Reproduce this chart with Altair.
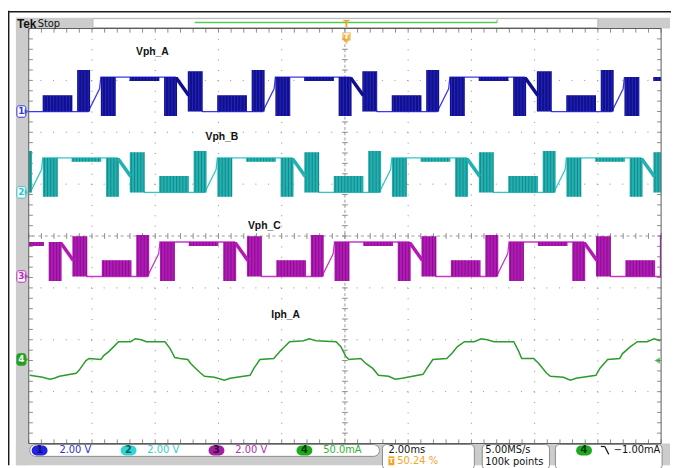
import altair as alt
import numpy as np
import pandas as pd

# ---------------- data ----------------
T_DOMAIN = [-10.0, 10.0]      # ms, 2.00 ms/div, 10 div
DIV_DOMAIN = [-4.0, 4.0]      # vertical divisions
V_PER_DIV = 2.0
MA_PER_DIV = 50.0

PHASES = ["Vph_A", "Vph_B", "Vph_C"]
PHASE_OFFSET_DIV = [2.40, 0.84, -0.78]
CUR_OFFSET_DIV = -2.38
PWM_PERIOD_MS = 5.52
PHASE_START_MS = [-9.56, -5.875, -7.69]   # start of the first low chopped block

# chopped blocks of one period (ms from block start, volts)
BLK_T0 = [0.00, 1.09, 1.84, 2.75, 3.84, 4.59]
BLK_T1 = [0.94, 1.50, 2.31, 3.69, 4.25, 5.06]
BLK_LO = [0.00, 0.00, -0.17, 1.18, -0.17, 0.00]
BLK_HI = [0.63, 1.60, 1.33, 1.33, 1.33, 1.55]

# thin trace of one period
TRACE_T = [0.00, 1.44, 1.80, 1.84, 4.20, 4.62, 5.06, 5.52]
TRACE_V = [0.00, 0.00, 0.88, 1.33, 1.33, 0.62, 0.00, 0.00]

# thick diagonal inside the "N"
DIAG_T = [4.22, 4.62]
DIAG_V = [1.30, 0.62]

# phase A current (ms, mA)
CUR_T = [-9.97, -9.56, -9.34, -9.19, -9.03, -8.50, -8.41, -8.19, -8.09, -7.72,
         -7.63, -7.47, -7.31, -7.16, -6.94, -6.78, -6.63, -6.44, -6.28, -5.69,
         -5.53, -5.38, -5.22, -4.97, -4.88, -4.72, -4.56, -4.44, -4.13, -3.81,
         -3.63, -3.00, -2.88, -2.69, -2.25, -2.06, -1.75, -1.31, -1.13, -0.91,
         -0.28, -0.13, 0.03, 0.13, 0.50, 0.66, 0.88, 1.06, 1.38, 1.59,
         1.81, 2.47, 2.59, 2.78, 3.22, 3.38, 3.56, 3.78, 4.09, 4.31,
         4.50, 4.72, 5.34, 5.50, 5.59, 5.97, 6.13, 6.38, 6.50, 6.91,
         7.13, 7.31, 7.94, 8.06, 8.31, 8.69, 8.78, 9.03, 9.25, 9.56,
         9.78, 9.97]
CUR_MA = [-15.2, -17.1, -19.0, -18.1, -16.2, -13.3, -10.5, -1.0, 1.0, 0.0,
          3.8, 7.6, 12.4, 17.1, 17.1, 17.1, 20.0, 19.0, 17.1, 17.1,
          10.5, 1.9, 1.0, 0.0, -3.8, -8.6, -13.3, -16.2, -17.1, -20.0,
          -18.1, -15.2, -8.6, 0.0, 1.0, 7.6, 17.1, 18.1, 20.0, 18.1,
          17.1, 12.4, 2.9, 0.0, 1.0, -3.8, -8.6, -15.2, -16.2, -19.0,
          -18.1, -14.3, -8.6, 0.0, 1.0, 5.7, 12.4, 17.1, 17.1, 20.0,
          19.0, 17.1, 17.1, 7.6, 1.0, 1.0, -3.8, -13.3, -16.2, -17.1,
          -20.0, -18.1, -15.2, -8.6, 0.0, 1.0, 5.7, 12.4, 17.1, 17.1,
          20.0, 18.1]

TRIGGER_MS = 0.05
TRIGGER_LEVEL_MA = -1.0

GRID_T = [-8, -6, -4, -2, 2, 4, 6, 8]
GRID_D = [-3, -2, -1, 1, 2, 3]

LABELS = ["Vph_A", "Vph_B", "Vph_C", "Iph_A"]
LABEL_T = [-6.09, -3.89, -2.55, -1.875]
LABEL_D = [3.54, 1.90, 0.19, -1.52]

# ---------------- styles ----------------
LINE_COL = {"Vph_A": "#3a3af0", "Vph_B": "#30c8c8", "Vph_C": "#c838c8"}
BLK_COL = {"Vph_A": "#10108e", "Vph_B": "#22b0b0", "Vph_C": "#b21ab6"}
STRIPE_COL = {"Vph_A": "#3434d8", "Vph_B": "#0f6f6f", "Vph_C": "#6a0a70"}
CUR_COL = "#2c9c2c"
FONT = "DejaVu Sans"
STRIPE_STEP_MS = 0.1

xs = alt.Scale(domain=T_DOMAIN, nice=False, zero=False)
ys = alt.Scale(domain=DIV_DOMAIN, nice=False, zero=False)

# ---------------- build tables ----------------
blk_rows, line_rows, diag_rows, stripe_rows = [], [], [], []
for ph, off, start in zip(PHASES, PHASE_OFFSET_DIV, PHASE_START_MS):
    for k in range(-2, 5):
        base = start + k * PWM_PERIOD_MS
        for t0, t1, lo, hi in zip(BLK_T0, BLK_T1, BLK_LO, BLK_HI):
            a, b = base + t0, base + t1
            if b <= T_DOMAIN[0] or a >= T_DOMAIN[1]:
                continue
            a, b = max(a, T_DOMAIN[0]), min(b, T_DOMAIN[1])
            y0, y1 = off + lo / V_PER_DIV, off + hi / V_PER_DIV
            blk_rows.append(dict(ph=ph, t0=a, t1=b, y0=y0, y1=y1, c=BLK_COL[ph]))
            for s in np.arange(a + STRIPE_STEP_MS / 2, b, STRIPE_STEP_MS):
                stripe_rows.append(dict(t=s, y0=y0, y1=y1, c=STRIPE_COL[ph]))
        for t, v in zip(TRACE_T, TRACE_V):
            tt = base + t
            if -11 < tt < 11:
                line_rows.append(dict(ph=ph, t=tt, y=off + v / V_PER_DIV, c=LINE_COL[ph]))
        if -11 < base + DIAG_T[0] < 11:
            diag_rows.append(dict(ph=ph, k=k, ta=base + DIAG_T[0], tb=base + DIAG_T[1],
                                  ya=off + DIAG_V[0] / V_PER_DIV, yb=off + DIAG_V[1] / V_PER_DIV,
                                  c=BLK_COL[ph]))
blk_df = pd.DataFrame(blk_rows)
stripe_df = pd.DataFrame(stripe_rows)
line_df = pd.DataFrame(line_rows)
diag_df = pd.DataFrame(diag_rows)
cur_df = pd.DataFrame({"t": CUR_T, "y": [CUR_OFFSET_DIV + m / MA_PER_DIV for m in CUR_MA]})

ONE = pd.DataFrame({"a": [0]})


def prect(x0, y0, x1, y1, **kw):
    return alt.Chart(ONE).mark_rect(**kw).encode(
        x=alt.value(x0), x2=alt.value(x1), y=alt.value(y0), y2=alt.value(y1))


def pline(x0, y0, x1, y1, **kw):
    return alt.Chart(ONE).mark_rule(**kw).encode(
        x=alt.value(x0), x2=alt.value(x1), y=alt.value(y0), y2=alt.value(y1))


def ptext(x, y, s, **kw):
    kw.setdefault("font", FONT)
    kw.setdefault("fontSize", 10)
    kw.setdefault("align", "left")
    kw.setdefault("baseline", "middle")
    return alt.Chart(ONE).mark_text(text=s, **kw).encode(x=alt.value(x), y=alt.value(y))


layers = []
GRAY = "#cccccc"
# screen frame (plot coords = page - (29, 26))
layers.append(prect(-13, -11, 649, 0, color=GRAY))
layers.append(prect(-13, -11, 0, 442, color=GRAY))
layers.append(prect(-13, 420, 649, 442, color=GRAY))
layers.append(prect(65, -10, 576, -1, color="white", stroke="#b8b8b8", strokeWidth=1))
layers.append(pline(168, -6, 474, -6, color="#55cc55", strokeWidth=1.5))
layers.append(pline(474, -9, 474, -6, color="#55cc55", strokeWidth=1))

# grid
minor_t = np.round(np.arange(-10, 10.001, 0.4), 3)
minor_d = np.round(np.arange(-4, 4.001, 0.2), 3)
layers.append(alt.Chart(pd.DataFrame({"t": GRID_T})).mark_rule(
    color="#8c8c8c", strokeWidth=1, strokeDash=[1, 9.5]).encode(x=alt.X("t:Q", scale=xs, axis=None)))
layers.append(alt.Chart(pd.DataFrame({"d": GRID_D})).mark_rule(
    color="#8c8c8c", strokeWidth=1, strokeDash=[1, 11.8]).encode(y=alt.Y("d:Q", scale=ys, axis=None)))
layers.append(alt.Chart(pd.DataFrame({"t": [0]})).mark_rule(
    color="#9a9a9a", strokeWidth=1, strokeDash=[3, 2.25]).encode(x=alt.X("t:Q", scale=xs, axis=None)))
layers.append(alt.Chart(pd.DataFrame({"d": [0]})).mark_rule(
    color="#9a9a9a", strokeWidth=1, strokeDash=[3, 3.4]).encode(y=alt.Y("d:Q", scale=ys, axis=None)))

tick_rows = []
for t in minor_t:
    tick_rows.append(dict(xa=t, xb=t, ya=4.0, yb=3.92))
    tick_rows.append(dict(xa=t, xb=t, ya=-4.0, yb=-3.92))
    tick_rows.append(dict(xa=t, xb=t, ya=-0.055, yb=0.055))
for d in minor_d:
    tick_rows.append(dict(xa=-10.0, xb=-9.87, ya=d, yb=d))
    tick_rows.append(dict(xa=10.0, xb=9.87, ya=d, yb=d))
    tick_rows.append(dict(xa=-0.09, xb=0.09, ya=d, yb=d))
layers.append(alt.Chart(pd.DataFrame(tick_rows)).mark_rule(color="#8c8c8c", strokeWidth=1).encode(
    x=alt.X("xa:Q", scale=xs, axis=None), x2="xb:Q",
    y=alt.Y("ya:Q", scale=ys, axis=None), y2="yb:Q"))

# waveforms
layers.append(alt.Chart(line_df).mark_line(strokeWidth=1.3, clip=True).encode(
    x=alt.X("t:Q", scale=xs, axis=None), y=alt.Y("y:Q", scale=ys, axis=None),
    detail="ph:N", color=alt.Color("c:N", scale=None)))
layers.append(alt.Chart(blk_df).mark_rect(clip=True).encode(
    x=alt.X("t0:Q", scale=xs, axis=None), x2="t1:Q",
    y=alt.Y("y0:Q", scale=ys, axis=None), y2="y1:Q",
    color=alt.Color("c:N", scale=None)))
layers.append(alt.Chart(stripe_df).mark_rule(strokeWidth=0.8, opacity=0.75, clip=True).encode(
    x=alt.X("t:Q", scale=xs, axis=None),
    y=alt.Y("y0:Q", scale=ys, axis=None), y2="y1:Q",
    color=alt.Color("c:N", scale=None)))
layers.append(alt.Chart(diag_df).mark_rule(strokeWidth=3.5, clip=True).encode(
    x=alt.X("ta:Q", scale=xs, axis=None), x2="tb:Q",
    y=alt.Y("ya:Q", scale=ys, axis=None), y2="yb:Q",
    color=alt.Color("c:N", scale=None)))
layers.append(alt.Chart(cur_df).mark_line(strokeWidth=1.5, color=CUR_COL, clip=True).encode(
    x=alt.X("t:Q", scale=xs, axis=None), y=alt.Y("y:Q", scale=ys, axis=None)))

# trace labels
layers.append(alt.Chart(pd.DataFrame({"t": LABEL_T, "d": LABEL_D, "s": LABELS})).mark_text(
    font="Liberation Sans", fontWeight="bold", fontSize=10.5, color="#111111").encode(
    x=alt.X("t:Q", scale=xs, axis=None), y=alt.Y("d:Q", scale=ys, axis=None), text="s:N"))

# plot border
layers.append(prect(0, 0, 640, 420, fillOpacity=0, stroke="#5a5a5a", strokeWidth=1))

# channel markers on the left
mk = pd.DataFrame({
    "d": PHASE_OFFSET_DIV + [CUR_OFFSET_DIV],
    "n": ["1", "2", "3", "4"],
    "sc": ["#3535e6", "#2cc4c4", "#b42cb4", "#22a022"],
    "fc": ["#ffffff", "#ffffff", "#ffffff", "#22a022"],
    "tc": ["#3535e6", "#2cc4c4", "#b42cb4", "#ffffff"],
})
mk["da"] = mk["d"] + 0.11
mk["db"] = mk["d"] - 0.11
layers.append(alt.Chart(mk).mark_rect(cornerRadius=2, strokeWidth=1).encode(
    x=alt.value(-12), x2=alt.value(-3),
    y=alt.Y("da:Q", scale=ys, axis=None), y2="db:Q",
    fill=alt.Fill("fc:N", scale=None), stroke=alt.Stroke("sc:N", scale=None)))
layers.append(alt.Chart(mk).mark_point(shape="triangle-right", filled=True, size=28).encode(
    x=alt.value(-2), y=alt.Y("d:Q", scale=ys, axis=None), color=alt.Color("sc:N", scale=None)))
layers.append(alt.Chart(mk).mark_text(font=FONT, fontSize=9, fontWeight="bold").encode(
    x=alt.value(-7.5), y=alt.Y("d:Q", scale=ys, axis=None), text="n:N",
    color=alt.Color("tc:N", scale=None)))

# trigger level arrow (right) and trigger position marker (top)
lvl = pd.DataFrame({"d": [CUR_OFFSET_DIV + TRIGGER_LEVEL_MA / MA_PER_DIV]})
layers.append(alt.Chart(lvl).mark_point(shape="triangle-left", filled=True, size=40, color="#22a022").encode(
    x=alt.value(636), y=alt.Y("d:Q", scale=ys, axis=None)))
trg = pd.DataFrame({"t": [TRIGGER_MS]})
layers.append(alt.Chart(trg).mark_square(filled=True, size=70, color="#f5a21e").encode(
    x=alt.X("t:Q", scale=xs, axis=None), y=alt.value(8)))
layers.append(alt.Chart(trg).mark_point(shape="triangle-down", filled=True, size=45, color="#f5a21e").encode(
    x=alt.X("t:Q", scale=xs, axis=None), y=alt.value(13)))
layers.append(alt.Chart(trg).mark_text(text="T", font=FONT, fontSize=8, fontWeight="bold", color="white").encode(
    x=alt.X("t:Q", scale=xs, axis=None), y=alt.value(9)))
layers.append(alt.Chart(trg).mark_text(text="T", font=FONT, fontSize=9, fontWeight="bold", color="#f5a21e").encode(
    x=alt.X("t:Q", scale=xs, axis=None), y=alt.value(-5)))

# top-left label
layers.append(ptext(-12, -5, "Tek", font="Liberation Sans", fontWeight="bold", fontSize=12, color="#111111"))
layers.append(ptext(9, -5, "Stop", fontSize=10, color="#111111"))

# status bar boxes
layers.append(prect(1, 421, 355, 433, color="white", stroke="#8a8a8a", strokeWidth=1, cornerRadius=6))
layers.append(prect(358, 421, 451, 446, color="white", stroke="#8a8a8a", strokeWidth=1, cornerRadius=4))
layers.append(prect(459, 421, 527, 446, color="white", stroke="#8a8a8a", strokeWidth=1, cornerRadius=4))
layers.append(prect(533, 421, 641, 446, color="white", stroke="#8a8a8a", strokeWidth=1, cornerRadius=4))

badges = [(3, "1", "#2424e0", "#10106a"), (93, "2", "#2ed6d6", "#0d5c5c"),
          (182, "3", "#a020a0", "#3a003a"), (271, "4", "#1fa81f", "#053805"),
          (554, "4", "#1fa81f", "#053805")]
for bx, n, fc, tc in badges:
    layers.append(prect(bx, 422, bx + 16, 432, color=fc, cornerRadius=5))
    layers.append(ptext(bx + 8, 427, n, align="center", fontWeight="bold", color=tc))

layers.append(ptext(31, 427, "2.00 V", color="#2b2bd9"))
layers.append(ptext(120, 427, "2.00 V", color="#33cccc"))
layers.append(ptext(209, 427, "2.00 V", color="#b42cb4"))
layers.append(ptext(298, 427, "50.0mA", color="#2eb22e"))
layers.append(ptext(364, 427, "2.00ms", color="#111111"))
layers.append(prect(364, 433, 370, 442, color="#f5a21e"))
layers.append(ptext(367, 437.5, "T", align="center", fontSize=7, fontWeight="bold", color="white"))
layers.append(ptext(373, 438, "50.24 %", color="#f5a21e"))
layers.append(ptext(462, 427, "5.00MS/s", color="#111111"))
layers.append(ptext(462, 439, "100k points", color="#111111"))
layers.append(pline(579, 423, 583, 423, color="#111111", strokeWidth=1.2))
layers.append(pline(583, 423, 587, 431, color="#111111", strokeWidth=1.2))
layers.append(ptext(592, 427, "\u22121.00mA", color="#111111"))

# outer page lines
layers.append(pline(-21, -17, 650, -17, color="#1a1a1a", strokeWidth=1.5))
layers.append(pline(-20.3, -18, -20.3, 442, color="#1a1a1a", strokeWidth=1.5))

chart = alt.layer(*layers).properties(
    width=640, height=420,
    padding={"left": 21, "top": 18, "right": 10, "bottom": 22},
    autosize=alt.AutoSizeParams(type="none"),
    background="white",
).configure_view(strokeWidth=0)

chart.save("out.html", embed_options={"renderer": "svg", "actions": False})
